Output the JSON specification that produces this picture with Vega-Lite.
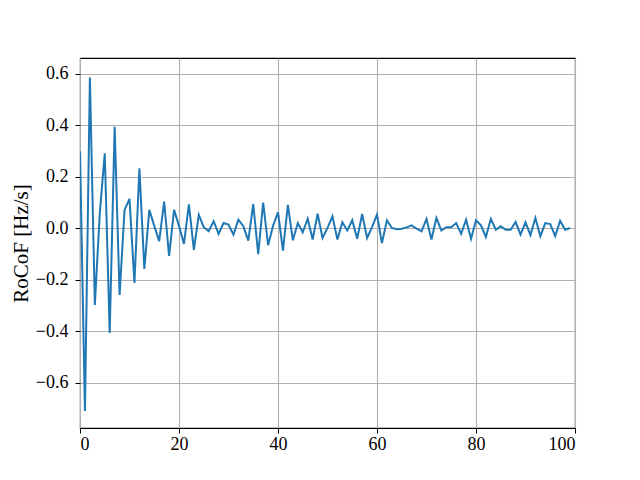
{
  "$schema": "https://vega.github.io/schema/vega-lite/v6.json",
  "width": 495,
  "height": 370,
  "autosize": {"type": "none"},
  "padding": {"left": 80, "top": 58, "right": 65, "bottom": 52},
  "background": "white",
  "config": {
    "view": {"stroke": "black", "strokeWidth": 1.1},
    "font": "Liberation Serif",
    "axis": {
      "labelFont": "Liberation Serif",
      "titleFont": "Liberation Serif",
      "labelFontSize": 18,
      "titleFontSize": 21,
      "titleFontWeight": "normal",
      "labelColor": "black",
      "titleColor": "black",
      "tickColor": "black",
      "tickSize": 5,
      "tickWidth": 1,
      "domain": false,
      "gridColor": "#b0b0b0",
      "gridWidth": 1.1,
      "gridOpacity": 1
    }
  },
  "data": {
    "values": [
      {"t": 0, "r": 0.3}, {"t": 1, "r": -0.709}, {"t": 2, "r": 0.586}, {"t": 3, "r": -0.297},
      {"t": 4, "r": 0.06}, {"t": 5, "r": 0.292}, {"t": 6, "r": -0.406}, {"t": 7, "r": 0.395},
      {"t": 8, "r": -0.258}, {"t": 9, "r": 0.072}, {"t": 10, "r": 0.115}, {"t": 11, "r": -0.212},
      {"t": 12, "r": 0.234}, {"t": 13, "r": -0.157}, {"t": 14, "r": 0.072}, {"t": 15, "r": 0.01},
      {"t": 16, "r": -0.049}, {"t": 17, "r": 0.104}, {"t": 18, "r": -0.107}, {"t": 19, "r": 0.072},
      {"t": 20, "r": 0.01}, {"t": 21, "r": -0.06}, {"t": 22, "r": 0.094}, {"t": 23, "r": -0.083},
      {"t": 24, "r": 0.053}, {"t": 25, "r": 0.005}, {"t": 26, "r": -0.011}, {"t": 27, "r": 0.028},
      {"t": 28, "r": -0.021}, {"t": 29, "r": 0.021}, {"t": 30, "r": 0.015}, {"t": 31, "r": -0.024},
      {"t": 32, "r": 0.034}, {"t": 33, "r": 0.009}, {"t": 34, "r": -0.047}, {"t": 35, "r": 0.095},
      {"t": 36, "r": -0.1}, {"t": 37, "r": 0.1}, {"t": 38, "r": -0.065}, {"t": 39, "r": 0.01},
      {"t": 40, "r": 0.063}, {"t": 41, "r": -0.086}, {"t": 42, "r": 0.092}, {"t": 43, "r": -0.046},
      {"t": 44, "r": 0.021}, {"t": 45, "r": -0.015}, {"t": 46, "r": 0.038}, {"t": 47, "r": -0.043},
      {"t": 48, "r": 0.057}, {"t": 49, "r": -0.037}, {"t": 50, "r": 0.002}, {"t": 51, "r": 0.047},
      {"t": 52, "r": -0.043}, {"t": 53, "r": 0.024}, {"t": 54, "r": -0.008}, {"t": 55, "r": 0.032},
      {"t": 56, "r": -0.04}, {"t": 57, "r": 0.056}, {"t": 58, "r": -0.037}, {"t": 59, "r": 0.005},
      {"t": 60, "r": 0.054}, {"t": 61, "r": -0.057}, {"t": 62, "r": 0.032}, {"t": 63, "r": 0.002},
      {"t": 64, "r": -0.003}, {"t": 65, "r": -0.001}, {"t": 66, "r": 0.004}, {"t": 67, "r": 0.012},
      {"t": 68, "r": -0.001}, {"t": 69, "r": -0.011}, {"t": 70, "r": 0.037}, {"t": 71, "r": -0.043},
      {"t": 72, "r": 0.041}, {"t": 73, "r": -0.008}, {"t": 74, "r": 0.005}, {"t": 75, "r": 0.005},
      {"t": 76, "r": 0.021}, {"t": 77, "r": -0.021}, {"t": 78, "r": 0.034}, {"t": 79, "r": -0.04},
      {"t": 80, "r": 0.032}, {"t": 81, "r": 0.012}, {"t": 82, "r": -0.033}, {"t": 83, "r": 0.037},
      {"t": 84, "r": -0.005}, {"t": 85, "r": 0.009}, {"t": 86, "r": -0.005}, {"t": 87, "r": -0.005},
      {"t": 88, "r": 0.025}, {"t": 89, "r": -0.024}, {"t": 90, "r": 0.024}, {"t": 91, "r": -0.026},
      {"t": 92, "r": 0.041}, {"t": 93, "r": -0.03}, {"t": 94, "r": 0.021}, {"t": 95, "r": 0.017},
      {"t": 96, "r": -0.03}, {"t": 97, "r": 0.03}, {"t": 98, "r": -0.005}, {"t": 99, "r": 0.002}
    ]
  },
  "mark": {"type": "line", "color": "#1f77b4", "strokeWidth": 2, "clip": true},
  "encoding": {
    "x": {
      "field": "t",
      "type": "quantitative",
      "scale": {"domain": [0, 100], "nice": false, "zero": false},
      "axis": {"title": null, "values": [0, 20, 40, 60, 80, 100], "format": "d", "labelPadding": 2}
    },
    "y": {
      "field": "r",
      "type": "quantitative",
      "scale": {"domain": [-0.775, 0.662], "nice": false, "zero": false},
      "axis": {
        "title": "RoCoF [Hz/s]",
        "values": [-0.6, -0.4, -0.2, 0, 0.2, 0.4, 0.6],
        "format": ".1f",
        "labelPadding": 7,
        "titlePadding": 4
      }
    }
  }
}
